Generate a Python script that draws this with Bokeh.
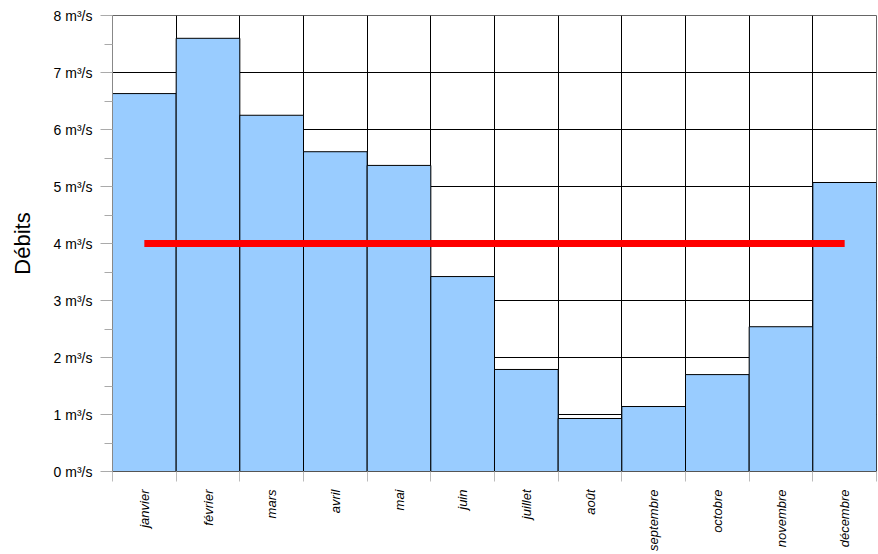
import math
from bokeh.plotting import figure
from bokeh.models import Range1d, FixedTicker
from bokeh.embed import file_html
from bokeh.resources import INLINE

months = ["janvier", "février", "mars", "avril", "mai", "juin", "juillet",
          "août", "septembre", "octobre", "novembre", "décembre"]
flows = [6.63, 7.60, 6.25, 5.61, 5.37, 3.42, 1.79, 0.93, 1.14, 1.70, 2.54, 5.07]
mean_flow = 4.0
y_ticks = [0, 1, 2, 3, 4, 5, 6, 7, 8]
y_tick_labels = ["0 m³/s", "1 m³/s", "2 m³/s", "3 m³/s", "4 m³/s", "5 m³/s",
                 "6 m³/s", "7 m³/s", "8 m³/s"]

n = len(months)
centers = [i + 0.5 for i in range(n)]
bounds = list(range(n + 1))
y_minor = [t + 0.5 for t in y_ticks[:-1]]

FONT = "Liberation Sans"

p = figure(width=878, height=554, output_backend="svg", toolbar_location=None,
           x_range=Range1d(0, n), y_range=Range1d(y_ticks[0], y_ticks[-1]),
           min_border_left=112, min_border_right=2, min_border_top=15,
           min_border_bottom=83)
p.background_fill_color = "white"
p.border_fill_color = "white"
p.outline_line_color = "#666666"
p.outline_line_width = 1

# grid
p.xgrid.ticker = FixedTicker(ticks=bounds)
p.xgrid.grid_line_color = "black"
p.xgrid.grid_line_alpha = 1
p.ygrid.grid_line_color = "black"
p.ygrid.grid_line_alpha = 1

# bars
p.vbar(x=centers, top=flows, bottom=0, width=1, fill_color="#99CCFF",
       line_color="black", line_width=1)

# mean line
p.segment(x0=[centers[0]], x1=[centers[-1]], y0=[mean_flow], y1=[mean_flow],
          line_color="#FF0000", line_width=7, line_cap="butt")

# x axis
xa = p.xaxis[0]
xa.ticker = FixedTicker(ticks=centers, minor_ticks=bounds)
xa.major_label_overrides = {c: m for c, m in zip(centers, months)}
xa.major_label_orientation = math.pi / 2
xa.major_tick_out = 0
xa.major_tick_in = 0
xa.minor_tick_out = 10
xa.minor_tick_in = 0
xa.minor_tick_line_color = "#bbbbbb"
xa.axis_line_color = "#555555"
xa.major_label_standoff = 8
xa.major_label_text_font = FONT
xa.major_label_text_font_size = "13px"
xa.major_label_text_font_style = "italic"
xa.major_label_text_color = "black"

# y axis
ya = p.yaxis[0]
ya.ticker = FixedTicker(ticks=y_ticks, minor_ticks=y_minor)
ya.major_label_overrides = {t: l for t, l in zip(y_ticks, y_tick_labels)}
ya.major_tick_out = 12
ya.major_tick_in = 0
ya.minor_tick_out = 8
ya.minor_tick_in = 0
ya.major_tick_line_color = "#aaaaaa"
ya.minor_tick_line_color = "#aaaaaa"
ya.axis_line_color = "#888888"
ya.major_label_standoff = 8
ya.major_label_text_font = FONT
ya.major_label_text_font_size = "14px"
ya.major_label_text_color = "black"
ya.axis_label = "Débits"
ya.axis_label_text_font = FONT
ya.axis_label_text_font_size = "22px"
ya.axis_label_text_font_style = "normal"
ya.axis_label_text_color = "black"
ya.axis_label_standoff = 16

open("out.html", "w").write(file_html(p, INLINE))
